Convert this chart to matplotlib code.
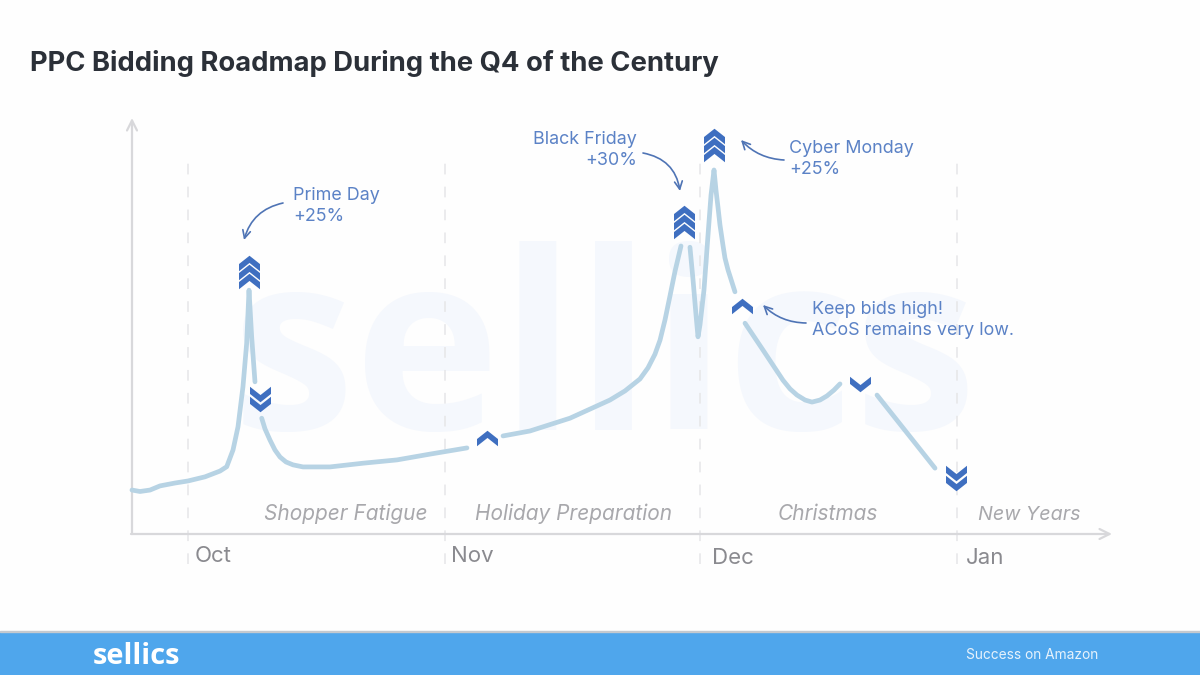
import matplotlib
matplotlib.use("Agg")
import matplotlib.pyplot as plt
from matplotlib.path import Path
from matplotlib.patches import Rectangle

# ---- data: x in days since 1 Oct, y in relative demand index ----
seg1_x = [-6.76,-5.79,-4.58,-3.38,-1.57,0,2.05,3.86,4.67,5.43,6.03,6.63,7.08,7.36,7.68,8.08]
seg1_y = [10.4,10.05,10.4,11.4,12.1,12.6,13.6,15.0,16.05,20.1,25.7,35.4,46.0,58.8,47.5,36.6]
seg2_x = [8.89,9.29,9.89,10.49,11.1,11.82,12.67,13.87,17.13,21.11,25.21,29.19,33.65]
seg2_y = [27.8,25.2,22.5,20.1,18.4,17.2,16.5,16.0,16.0,16.9,17.7,19.1,20.6]
seg3_x = [38.0,41.25,46.08,50.9,52.71,54.52,55.49,56.33,56.94,57.54,58.14,58.75,59.47]
seg3_y = [23.5,24.7,27.8,32.2,34.4,37.3,40.0,43.3,46.7,51.6,57.4,63.4,69.5]
seg4_x = [60.55,60.92,61.28,61.52,61.76,62.24,62.73,63.09,63.45,63.69,63.93,64.17,64.53,64.77,65.14,65.98]
seg4_y = [69.2,61.3,52.8,47.5,50.4,58.8,72.2,81.8,87.9,83.0,78.9,74.6,69.7,66.6,63.7,58.4]
seg5_x = [67.19,69.36,71.77,72.62,73.46,74.43,75.27,76.24,77.08,77.92,78.65]
seg5_y = [50.8,44.3,37.0,34.9,33.4,32.2,31.7,32.2,33.2,34.6,36.1]
seg6_x = [83.11,90.11]
seg6_y = [33.4,15.7]
segments = [(seg1_x,seg1_y),(seg2_x,seg2_y),(seg3_x,seg3_y),(seg4_x,seg4_y),(seg5_x,seg5_y),(seg6_x,seg6_y)]

triple_up_x = [7.36,59.83,63.45];  triple_up_y = [63.2,75.3,93.9]
double_down_x = [8.69,92.64];      double_down_y = [32.4,13.3]
single_up_x = [66.83,36.07];       single_up_y = [55.0,23.0]
single_down_x = [81.06];           single_down_y = [36.1]

month_days = [0,31,61.8,92.8]
month_labels = ["Oct","Nov","Dec","Jan"]
phase_labels = ["Shopper Fatigue","Holiday Preparation","Christmas","New Years"]

BLUE="#5b82c6"; CHEV="#3f6fc0"; LINE="#b7d3e4"; GREY="#d8d8db"
W,H=1200,675
def fx(p): return p/W
def fy(p): return 1-p/H

fig=plt.figure(figsize=(12,6.75),dpi=100,facecolor="#fefefe")
ax=fig.add_axes([0,0,1,1],zorder=5)
ax.patch.set_visible(False)
PXD,PXI=8.29,4.13
ax.set_xlim(-188/PXD,(W-188)/PXD)
ax.set_ylim(-(H-533)/PXI,533/PXI)
ax.axis("off")

FONT="Inter"
# watermark
fig.text(fx(605),fy(430),"sellics",color="#f5f8fd",fontsize=178,fontweight="bold",family="Open Sans",ha="center",va="baseline",zorder=0)
# footer
fig.add_artist(Rectangle((0,0),1,fy(632),transform=fig.transFigure,color="#4fa6ec",zorder=1))
fig.add_artist(Rectangle((0,fy(632)),1,1.5/H,transform=fig.transFigure,color="#c4c9cf",zorder=1))
fig.text(fx(93),fy(664),"sellics",color="white",fontsize=21,fontweight="bold",family="Open Sans",zorder=2)
fig.text(fx(966),fy(659),"Success on Amazon",color="#e6f2fc",fontsize=9.9,family=FONT,zorder=2)
# title
fig.text(fx(30),fy(71),"PPC Bidding Roadmap During the Q4 of the Century",color="#2b3038",fontsize=19.75,fontweight="bold",family=FONT)

# axes arrows
def arrow(p0,p1,color,lw=1.6,style="->",conn=None,ms=10):
    ax.annotate("",xy=(fx(p1[0]),fy(p1[1])),xytext=(fx(p0[0]),fy(p0[1])),
        xycoords="figure fraction",textcoords="figure fraction",
        arrowprops=dict(arrowstyle=style,color=color,lw=lw,mutation_scale=ms,shrinkA=0,shrinkB=0,
                        connectionstyle=conn or "arc3"))
arrow((132,534),(132,118),GREY,1.6,"->",ms=18)
arrow((131,534),(1112,534),GREY,1.6,"->",ms=18)

# month guides
for d in month_days:
    ax.plot([d,d],[-7.5,90],color="#e6e6e8",lw=1.1,dashes=(7,8),zorder=2)
for d,l,px,py in zip(month_days,month_labels,[195,451,712,966],[562,562,564,564]):
    fig.text(fx(px),fy(py),l,color="#8a8a8f",fontsize=16,family=FONT)
for l,px,sz in zip(phase_labels,[346,574,828,1029],[15,15,15,14.2]):
    fig.text(fx(px),fy(520),l,color="#a8a8ac",fontsize=sz,style="italic",family=FONT,ha="center")

# curve
for xs,ys in segments:
    ax.plot(xs,ys,color=LINE,lw=3.4,solid_capstyle="round",solid_joinstyle="round",zorder=3)

# chevrons
def chevron_path(n,step,up=True):
    w,h,t=10.5,15.5,7.2
    total=h+(n-1)*step
    verts=[];codes=[]
    for i in range(n):
        top=total/2-i*step
        pts=[(0,top),(w,top-(h-t)),(w,top-h),(0,top-t),(-w,top-h),(-w,top-(h-t)),(0,top)]
        if not up: pts=[(x,-y) for x,y in pts]
        verts+=pts
        codes+=[Path.MOVETO]+[Path.LINETO]*5+[Path.CLOSEPOLY]
    return Path(verts,codes),max(total,2*w)
for xs,ys,n,st,up in [(triple_up_x,triple_up_y,3,9,True),(double_down_x,double_down_y,2,10,False),
                      (single_up_x,single_up_y,1,0,True),(single_down_x,single_down_y,1,0,False)]:
    p,size=chevron_path(n,st,up)
    ax.plot(xs,ys,ls="none",marker=p,markersize=size*0.72,color=CHEV,markeredgewidth=0,zorder=4)

# annotation text
for (px,py,s,ha) in [(293,200,"Prime Day","left"),(293,221,"+25%","left"),
                     (637,144,"Black Friday","right"),(637,165,"+30%","right"),
                     (789,153,"Cyber Monday","left"),(789,174,"+25%","left"),
                     (812,314,"Keep bids high!","left"),(812,335,"ACoS remains very low.","left")]:
    fig.text(fx(px),fy(py),s,color=BLUE,fontsize=12.9,family=FONT,ha=ha,zorder=6)

# callout arrows
AC="#4f74b5"
arrow((283,203),(244,240),AC,1.2,conn="arc3,rad=0.3",ms=14)
arrow((643,153),(680,191),AC,1.2,conn="arc3,rad=-0.35",ms=14)
arrow((784,160),(741,140),AC,1.2,conn="arc3,rad=-0.2",ms=14)
arrow((806,323),(763,305),AC,1.2,conn="arc3,rad=-0.2",ms=14)

fig.savefig("out.png",dpi=100,facecolor=fig.get_facecolor())
